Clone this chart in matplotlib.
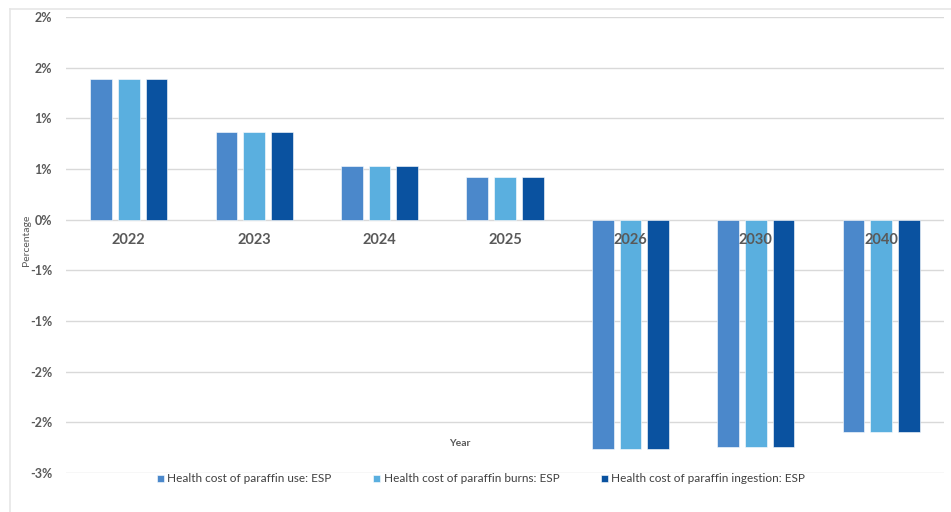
import math
import matplotlib
matplotlib.use("Agg")
import matplotlib.pyplot as plt
from matplotlib.ticker import FuncFormatter, MultipleLocator
from matplotlib.lines import Line2D
import numpy as np

plt.rcParams['font.family'] = ['Lato', 'DejaVu Sans']

years = ["2022", "2023", "2024", "2025", "2026", "2030", "2040"]
paraffin_use = [1.39, 0.87, 0.53, 0.42, -2.26, -2.24, -2.10]
paraffin_burns = [1.39, 0.87, 0.53, 0.42, -2.26, -2.24, -2.10]
paraffin_ingestion = [1.39, 0.87, 0.53, 0.42, -2.26, -2.24, -2.10]
series_names = ["Health cost of paraffin use: ESP",
                "Health cost of paraffin burns: ESP",
                "Health cost of paraffin ingestion: ESP"]
colors = ["#4b88cb", "#5aafdf", "#0a52a0"]

fig = plt.figure(figsize=(9.51, 5.12), dpi=100)
ax = fig.add_axes([66 / 951, 1 - 473 / 512, (944 - 66) / 951, (473 - 17) / 512])

# light frame around the chart area
fig.add_artist(Line2D([10 / 951, 10 / 951], [0, 1 - 9 / 512], transform=fig.transFigure,
                      color="#e6e6e6", lw=1.2))
fig.add_artist(Line2D([10 / 951, 1], [1 - 9 / 512, 1 - 9 / 512], transform=fig.transFigure,
                      color="#e6e6e6", lw=1.2))

x = np.arange(len(years))
w = 0.173
step = 0.221
for k, (vals, c, name) in enumerate(zip([paraffin_use, paraffin_burns, paraffin_ingestion],
                                         colors, series_names)):
    ax.bar(x + (k - 1) * step, vals, width=w, color=c, label=name, zorder=3,
           edgecolor="#ffffff", linewidth=0.4)

ax.set_xlim(-0.5, len(years) - 0.5)
ax.set_ylim(-2.5, 2.0)
ax.yaxis.set_major_locator(MultipleLocator(0.5))


def pct(v, pos):
    r = math.floor(abs(v) + 0.5 + 1e-9)
    if v < 0 and r != 0:
        return f"-{r}%"
    return f"{r}%"


ax.yaxis.set_major_formatter(FuncFormatter(pct))
ax.grid(axis="y", color="#d9d9d9", lw=1.0, zorder=0)
ax.set_xticks([])
for s in ax.spines.values():
    s.set_visible(False)
ax.tick_params(axis="y", length=0, pad=10, labelsize=9, labelcolor="#595959")
for t in ax.get_yticklabels():
    t.set_fontweight("bold")

# category labels sit just under the zero line
for i, yr in enumerate(years):
    ax.annotate(yr, (i, 0), xytext=(0, -14.5), textcoords="offset points",
                ha="center", va="center", fontsize=10.5, fontweight="bold",
                color="#595959", zorder=5)

fig.text(27 / 951, 1 - 240 / 512, "Percentage", rotation=90, ha="center", va="center",
         fontsize=7.5, color="#595959")
fig.text(460 / 951, 1 - 443 / 512, "Year", ha="center", va="center",
         fontsize=7.5, fontweight="bold", color="#595959")

leg = fig.legend(loc="center", bbox_to_anchor=(481 / 951, 1 - 479 / 512), ncol=3,
                 frameon=False, fontsize=8.5, handlelength=0.6, handleheight=0.6,
                 handletextpad=0.3, columnspacing=3.5, labelcolor="#404040")

fig.savefig("out.png", dpi=100, facecolor="white")
